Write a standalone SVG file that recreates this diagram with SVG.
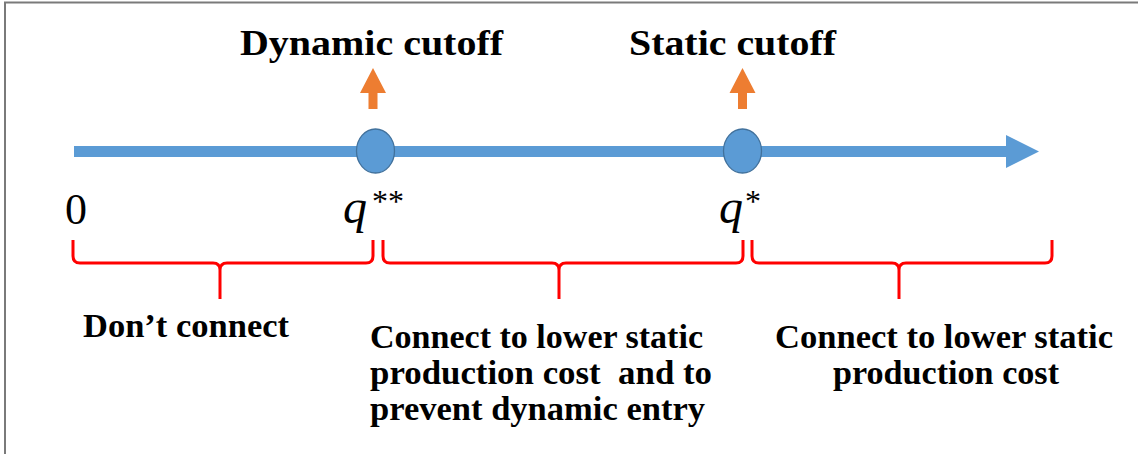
<svg xmlns="http://www.w3.org/2000/svg" width="1138" height="454" viewBox="0 0 1138 454">
<style>
.t{font-family:"Liberation Serif","Times New Roman",serif;font-weight:bold;fill:#000;white-space:pre}
.m{font-family:"Liberation Serif","Times New Roman",serif;fill:#000}
.brace{fill:none;stroke:#ff0000;stroke-width:3;stroke-linejoin:round}
.dot{fill:#5b9bd5;stroke:#41719c;stroke-width:1.3}
.up{fill:#ed7d31}
</style>
<rect x="0" y="0" width="1138" height="454" fill="#fff"/>
<rect x="5" y="2.5" width="1145" height="470" fill="none" stroke="#7a7a7a" stroke-width="2"/>
<g id="connectors">
<rect x="74" y="146" width="934" height="11" fill="#5b9bd5"/>
<polygon points="1006,135 1039,151.5 1006,168" fill="#5b9bd5"/>
</g>
<g id="dynamic-cutoff">
<polygon class="up" points="373,68 386,93 377.5,93 377.5,109 368.5,109 368.5,93 360,93"/>
<ellipse class="dot" cx="375.5" cy="151" rx="19" ry="22"/>
<text class="t" x="240" y="55" font-size="36" textLength="263" lengthAdjust="spacingAndGlyphs">Dynamic cutoff</text>
</g>
<g id="static-cutoff">
<polygon class="up" points="742.5,68 755.5,93 747,93 747,109 738,109 738,93 729.5,93"/>
<ellipse class="dot" cx="742.5" cy="151" rx="19" ry="22"/>
<text class="t" x="629" y="55" font-size="36" textLength="207" lengthAdjust="spacingAndGlyphs">Static cutoff</text>
</g>
<g id="labels">
<text class="m" x="65" y="224" font-size="44">0</text>
<text class="m" x="343" y="223" font-size="48" font-style="italic">q</text>
<text class="m" x="372" y="212" font-size="32">**</text>
<text class="m" x="719" y="223" font-size="48" font-style="italic">q</text>
<text class="m" x="745" y="212" font-size="32">*</text>
</g>
<g id="brace-1">
<path class="brace" d="M73,240 V256 Q73,263 80,263 H213 Q220,263 220,270 V299 M220,270 Q220,263 227,263 H366 Q373,263 373,256 V240"/>
<text class="t" x="83" y="337" font-size="33" textLength="206" lengthAdjust="spacingAndGlyphs">Don’t connect</text>
</g>
<g id="brace-2">
<path class="brace" d="M383,240 V256 Q383,263 390,263 H552 Q559,263 559,270 V299 M559,270 Q559,263 566,263 H736 Q743,263 743,256 V240"/>
<text class="t" x="370" y="348" font-size="33" textLength="333" lengthAdjust="spacingAndGlyphs">Connect to lower static</text>
<text class="t" x="370" y="384" font-size="33" textLength="342" lengthAdjust="spacingAndGlyphs">production cost  and to</text>
<text class="t" x="370" y="420" font-size="33" textLength="335" lengthAdjust="spacingAndGlyphs">prevent dynamic entry</text>
</g>
<g id="brace-3">
<path class="brace" d="M752,240 V256 Q752,263 759,263 H892 Q899,263 899,270 V299 M899,270 Q899,263 906,263 H1045 Q1052,263 1052,256 V240"/>
<text class="t" x="775" y="348" font-size="33" textLength="338" lengthAdjust="spacingAndGlyphs">Connect to lower static</text>
<text class="t" x="833" y="384" font-size="33" textLength="226" lengthAdjust="spacingAndGlyphs">production cost</text>
</g>
</svg>
